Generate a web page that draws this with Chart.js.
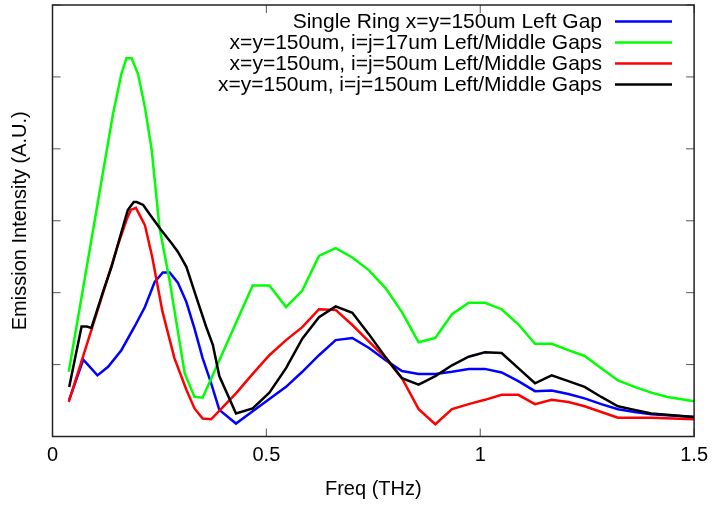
<!DOCTYPE html>
<html>
<head>
<meta charset="utf-8">
<script src="https://cdn.jsdelivr.net/npm/chart.js@4.4.1/dist/chart.umd.min.js"></script>
<style>
  html, body { margin: 0; padding: 0; background: #fff; }
  #wrap { width: 715px; height: 505px; }
</style>
</head>
<body>
<div id="wrap"><canvas id="c" width="715" height="505"></canvas></div>
<script>
// Emission spectra (arbitrary units) versus frequency in THz
const ringFreq = [0.039,0.072,0.105,0.130,0.161,0.192,0.216,0.239,0.258,0.274,0.293,0.313,0.332,0.351,0.371,0.390,0.429,0.468,0.507,0.546,0.584,0.623,0.662,0.701,0.740,0.779,0.817,0.856,0.895,0.934,0.973,1.011,1.050,1.089,1.128,1.167,1.206,1.244,1.283,1.322,1.361,1.400,1.500];
const ringIntensity = [0.51,1.07,0.85,0.97,1.20,1.53,1.80,2.15,2.28,2.28,2.14,1.87,1.50,1.09,0.74,0.37,0.18,0.35,0.52,0.69,0.90,1.13,1.34,1.37,1.23,1.06,0.91,0.87,0.87,0.90,0.94,0.94,0.89,0.77,0.63,0.64,0.59,0.53,0.45,0.38,0.34,0.31,0.27];

const gap17Freq = [0.038,0.141,0.161,0.173,0.185,0.200,0.216,0.232,0.250,0.274,0.309,0.332,0.351,0.468,0.507,0.546,0.584,0.623,0.662,0.701,0.740,0.779,0.817,0.856,0.895,0.934,0.973,1.011,1.050,1.089,1.128,1.167,1.206,1.244,1.283,1.322,1.361,1.400,1.438,1.500];
const gap17Intensity = [0.90,4.47,5.04,5.26,5.26,5.04,4.58,3.98,2.91,2.16,0.88,0.55,0.54,2.10,2.10,1.80,2.03,2.51,2.62,2.49,2.31,2.06,1.73,1.31,1.37,1.70,1.86,1.86,1.77,1.56,1.29,1.29,1.20,1.12,0.95,0.78,0.69,0.61,0.55,0.49];

const gap50Freq = [0.038,0.130,0.153,0.173,0.183,0.195,0.216,0.233,0.257,0.285,0.313,0.332,0.351,0.371,0.429,0.468,0.507,0.546,0.584,0.623,0.662,0.701,0.740,0.779,0.817,0.856,0.895,0.934,0.973,1.011,1.050,1.089,1.128,1.167,1.206,1.244,1.322,1.400,1.500];
const gap50Intensity = [0.48,2.22,2.66,3.01,3.15,3.18,2.94,2.50,1.74,1.09,0.65,0.39,0.25,0.24,0.60,0.87,1.13,1.34,1.52,1.77,1.76,1.55,1.32,1.09,0.81,0.38,0.17,0.38,0.45,0.51,0.58,0.58,0.45,0.51,0.48,0.42,0.26,0.26,0.24];

const gap150Freq = [0.039,0.068,0.080,0.091,0.118,0.138,0.161,0.176,0.190,0.197,0.212,0.231,0.254,0.278,0.293,0.313,0.336,0.359,0.375,0.390,0.429,0.468,0.507,0.546,0.584,0.623,0.662,0.701,0.740,0.779,0.817,0.856,0.895,0.934,0.973,1.011,1.050,1.089,1.128,1.167,1.206,1.244,1.283,1.322,1.361,1.400,1.500];
const gap150Intensity = [0.69,1.53,1.53,1.51,2.01,2.36,2.84,3.15,3.26,3.26,3.22,3.06,2.87,2.69,2.57,2.36,1.94,1.53,1.27,0.84,0.32,0.39,0.61,0.95,1.36,1.66,1.81,1.72,1.42,1.10,0.81,0.72,0.84,0.99,1.11,1.17,1.16,0.95,0.74,0.85,0.77,0.69,0.55,0.42,0.37,0.32,0.27];

const seriesLabels = [
  'Single Ring x=y=150um Left Gap',
  'x=y=150um, i=j=17um Left/Middle Gaps',
  'x=y=150um, i=j=50um Left/Middle Gaps',
  'x=y=150um, i=j=150um Left/Middle Gaps'
];
const xTickStep = 0.5;
const yTickStep = 1;

const FONT = '"Liberation Sans", Arial, Helvetica, sans-serif';
const FONT_SIZE = 20;
const KEY_FONT_SIZE = 21;

function points(xs, ys) { return xs.map((f, i) => ({ x: f, y: ys[i] })); }

// Right-aligned key with the line sample after each label
const keyPlugin = {
  id: 'keyPlugin',
  afterDatasetsDraw(chart) {
    const ctx = chart.ctx;
    ctx.save();
    ctx.font = KEY_FONT_SIZE + 'px ' + FONT;
    ctx.textAlign = 'right';
    ctx.textBaseline = 'middle';
    chart.data.datasets.forEach((ds, i) => {
      const rowY = 21.5 + i * 21;
      ctx.fillStyle = '#000';
      ctx.fillText(ds.label, 602, rowY + 1);
      ctx.strokeStyle = ds.borderColor;
      ctx.lineWidth = ds.borderWidth;
      ctx.beginPath();
      ctx.moveTo(615, rowY);
      ctx.lineTo(672, rowY);
      ctx.stroke();
    });
    ctx.restore();
  }
};

// Box border with inward tick marks on all four sides
const framePlugin = {
  id: 'framePlugin',
  afterDatasetsDraw(chart) {
    const { ctx, chartArea: a, scales: { x, y } } = chart;
    const len = 8;
    ctx.save();
    ctx.strokeStyle = '#555';
    ctx.lineWidth = 1;
    ctx.beginPath();
    x.ticks.forEach(t => {
      const px = x.getPixelForValue(t.value);
      ctx.moveTo(px, a.bottom); ctx.lineTo(px, a.bottom - len);
      ctx.moveTo(px, a.top); ctx.lineTo(px, a.top + len);
    });
    y.ticks.forEach(t => {
      const py = y.getPixelForValue(t.value);
      ctx.moveTo(a.left, py); ctx.lineTo(a.left + len, py);
      ctx.moveTo(a.right, py); ctx.lineTo(a.right - len, py);
    });
    ctx.stroke();
    ctx.strokeStyle = '#222';
    ctx.lineWidth = 1.5;
    ctx.strokeRect(a.left, a.top, a.right - a.left, a.bottom - a.top);
    ctx.restore();
  }
};

const lineStyle = { borderWidth: 2.5, pointRadius: 0, tension: 0, fill: false };

new Chart(document.getElementById('c'), {
  type: 'line',
  data: {
    datasets: [
      { label: seriesLabels[0], data: points(ringFreq, ringIntensity), borderColor: '#0000ff', order: 3, ...lineStyle },
      { label: seriesLabels[1], data: points(gap17Freq, gap17Intensity), borderColor: '#00ff00', order: 2, ...lineStyle },
      { label: seriesLabels[2], data: points(gap50Freq, gap50Intensity), borderColor: '#ff0000', order: 1, ...lineStyle },
      { label: seriesLabels[3], data: points(gap150Freq, gap150Intensity), borderColor: '#000000', order: 0, ...lineStyle }
    ]
  },
  options: {
    responsive: false,
    animation: false,
    devicePixelRatio: 1,
    layout: { padding: { top: 5, right: 18.5, left: 0, bottom: 0 } },
    plugins: { legend: { display: false }, tooltip: { enabled: false } },
    scales: {
      x: {
        type: 'linear',
        min: 0, max: 1.5,
        grid: { display: false, drawTicks: false },
        border: { display: false },
        ticks: {
          stepSize: xTickStep, padding: 7, color: '#000',
          font: { family: FONT, size: FONT_SIZE },
          callback: v => String(+v.toFixed(2))
        },
        title: { display: true, text: 'Freq (THz)', color: '#000', font: { family: FONT, size: FONT_SIZE }, padding: { top: 0, bottom: 3.5 } },
        afterFit(scale) { scale.height = 68.5; }
      },
      y: {
        type: 'linear',
        min: 0, max: 6,
        grid: { display: false, drawTicks: false },
        border: { display: false },
        ticks: { stepSize: yTickStep, display: false },
        title: { display: true, text: 'Emission Intensity (A.U.)', color: '#000', font: { family: FONT, size: FONT_SIZE }, padding: { top: 8.5, bottom: 0 } },
        afterFit(scale) { scale.width = 52.5; }
      }
    }
  },
  plugins: [framePlugin, keyPlugin]
});
</script>
</body>
</html>
